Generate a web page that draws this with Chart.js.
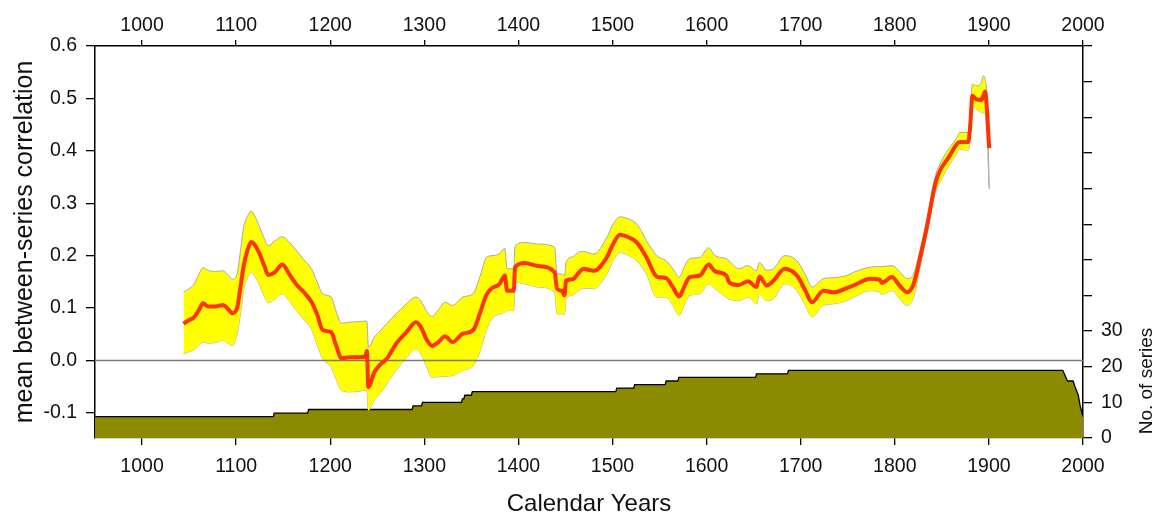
<!DOCTYPE html>
<html>
<head>
<meta charset="utf-8">
<script src="https://cdn.jsdelivr.net/npm/chart.js@4"></script>
<style>
  html, body { margin: 0; padding: 0; background: #fff; }
  #wrap { width: 1158px; height: 519px; position: relative; }
</style>
</head>
<body>
<div id="wrap"><canvas id="chart"></canvas></div>
<script>
'use strict';

// ── data ────────────────────────────────────────────────────────────────
const years = [
  1044, 1050, 1055, 1060, 1065, 1070, 1078, 1086, 1092, 1096,
  1101, 1105, 1108, 1112, 1116, 1120, 1125, 1130, 1134, 1141,
  1149, 1157, 1164, 1172, 1180, 1186, 1192, 1201, 1206, 1212,
  1220, 1230, 1237, 1239, 1240.5, 1247, 1253, 1260, 1270, 1281,
  1291, 1297, 1302, 1308, 1315, 1322, 1330, 1341, 1352, 1360,
  1366, 1372, 1380, 1385.5, 1388, 1395, 1396.5, 1407, 1421, 1438.5,
  1441, 1446, 1449, 1450.5, 1458, 1463, 1469, 1480, 1494, 1500,
  1508, 1517, 1526, 1536, 1547, 1557, 1564, 1571, 1576, 1582,
  1593, 1602, 1609, 1621, 1624, 1634, 1644, 1653, 1656, 1664,
  1671, 1683, 1696, 1705, 1712, 1724, 1735, 1749, 1756, 1774,
  1784, 1786, 1797, 1805, 1813, 1820, 1827, 1834, 1843, 1848,
  1857, 1866, 1869, 1878, 1880, 1882.5, 1887, 1892, 1894, 1896,
  1898, 1900.3
];
const meanCorr = [
  0.070, 0.077, 0.082, 0.095, 0.109, 0.103, 0.103, 0.106, 0.097, 0.090,
  0.100, 0.145, 0.180, 0.210, 0.226, 0.220, 0.203, 0.180, 0.163, 0.168,
  0.183, 0.163, 0.145, 0.130, 0.112, 0.088, 0.058, 0.054, 0.030, 0.004,
  0.006, 0.006, 0.007, 0.018, -0.051, -0.022, -0.008, 0.003, 0.032, 0.054,
  0.073, 0.062, 0.041, 0.028, 0.035, 0.046, 0.035, 0.051, 0.058, 0.095,
  0.125, 0.138, 0.146, 0.162, 0.133, 0.133, 0.178, 0.186, 0.180, 0.168,
  0.137, 0.133, 0.124, 0.152, 0.155, 0.165, 0.175, 0.171, 0.197, 0.220,
  0.240, 0.235, 0.225, 0.197, 0.160, 0.157, 0.140, 0.122, 0.140, 0.159,
  0.162, 0.183, 0.170, 0.162, 0.149, 0.144, 0.151, 0.140, 0.160, 0.143,
  0.152, 0.175, 0.162, 0.133, 0.111, 0.133, 0.130, 0.138, 0.143, 0.156,
  0.154, 0.148, 0.159, 0.143, 0.130, 0.146, 0.197, 0.254, 0.337, 0.362,
  0.387, 0.413, 0.417, 0.417, 0.444, 0.505, 0.498, 0.497, 0.505, 0.513,
  0.476, 0.405
];
const upperCorr = [
  0.130, 0.137, 0.145, 0.163, 0.177, 0.172, 0.170, 0.171, 0.162, 0.155,
  0.165, 0.215, 0.255, 0.275, 0.285, 0.275, 0.254, 0.232, 0.219, 0.228,
  0.236, 0.225, 0.210, 0.192, 0.175, 0.150, 0.127, 0.121, 0.095, 0.071,
  0.073, 0.074, 0.075, 0.075, 0.025, 0.045, 0.056, 0.070, 0.089, 0.108,
  0.121, 0.112, 0.095, 0.084, 0.097, 0.111, 0.105, 0.121, 0.128, 0.165,
  0.197, 0.200, 0.204, 0.214, 0.175, 0.175, 0.219, 0.225, 0.222, 0.216,
  0.165, 0.165, 0.162, 0.187, 0.198, 0.206, 0.208, 0.203, 0.235, 0.258,
  0.274, 0.270, 0.260, 0.229, 0.200, 0.190, 0.175, 0.159, 0.178, 0.194,
  0.197, 0.215, 0.200, 0.194, 0.190, 0.175, 0.181, 0.171, 0.187, 0.172,
  0.175, 0.200, 0.190, 0.163, 0.140, 0.156, 0.158, 0.162, 0.168, 0.178,
  0.179, 0.179, 0.181, 0.170, 0.156, 0.165, 0.213, 0.268, 0.352, 0.375,
  0.403, 0.425, 0.435, 0.435, 0.476, 0.527, 0.524, 0.530, 0.543, 0.537,
  0.500, 0.330
];
const lowerCorr = [
  0.012, 0.017, 0.020, 0.028, 0.035, 0.033, 0.034, 0.038, 0.032, 0.028,
  0.050, 0.095, 0.135, 0.158, 0.168, 0.160, 0.143, 0.122, 0.110, 0.117,
  0.127, 0.112, 0.095, 0.078, 0.060, 0.030, 0.003, -0.013, -0.035, -0.057,
  -0.060, -0.059, -0.057, -0.057, -0.095, -0.075, -0.063, -0.045, -0.019, 0.005,
  0.022, 0.010, -0.010, -0.032, -0.031, -0.030, -0.029, -0.019, -0.010, 0.022,
  0.058, 0.080, 0.089, 0.092, 0.095, 0.095, 0.149, 0.146, 0.140, 0.130,
  0.089, 0.089, 0.088, 0.116, 0.125, 0.132, 0.138, 0.137, 0.165, 0.188,
  0.206, 0.200, 0.190, 0.165, 0.121, 0.121, 0.105, 0.086, 0.105, 0.124,
  0.127, 0.146, 0.137, 0.120, 0.117, 0.114, 0.121, 0.108, 0.127, 0.114,
  0.118, 0.146, 0.133, 0.105, 0.083, 0.105, 0.108, 0.114, 0.120, 0.133,
  0.130, 0.126, 0.133, 0.118, 0.105, 0.121, 0.180, 0.240, 0.321, 0.340,
  0.370, 0.395, 0.403, 0.401, 0.420, 0.486, 0.479, 0.473, 0.472, 0.470,
  0.430, 0.327
];

// number of series (sample depth), drawn as a stepped area on the right axis
const seriesYears = [
  950, 1139.5, 1140.5, 1176, 1177, 1287, 1288, 1297, 1298, 1339.5,
  1340.5, 1342, 1343, 1350, 1351, 1503.5, 1504.5, 1522.5, 1523.5, 1556,
  1557, 1569.5, 1570.5, 1652, 1653, 1686, 1687, 1978.5, 1983.5, 1989.5,
  1992, 1995, 1997, 2000
];
const seriesCount = [
  6, 6, 7, 7, 8, 8, 9, 9, 10, 10,
  11, 11, 12, 12, 13, 13, 14, 14, 15, 15,
  16, 16, 17, 17, 18, 18, 19, 19, 16, 16,
  14, 12, 9, 6
];

const yearRange = [950, 2000];
const corrRange = [-0.148, 0.6];
const seriesRange = [0, 110];
const yearTicks = [1000, 1100, 1200, 1300, 1400, 1500, 1600, 1700, 1800, 1900, 2000];
const corrTicks = [-0.1, 0, 0.1, 0.2, 0.3, 0.4, 0.5, 0.6];
const seriesTicks = [0, 10, 20, 30, 40, 50, 60, 70, 80, 90, 100, 110];
const seriesLabelMax = 30;

// ── helpers ─────────────────────────────────────────────────────────────
const FONT = '"Liberation Sans", Arial, Helvetica, sans-serif';
const INK = '#111';
const pts = (xs, ys) => xs.map((x, i) => ({ x, y: ys[i] }));
const setTicks = list => axis => { axis.ticks = list.map(v => ({ value: v })); };

// right-hand axis title sits beside the 0–30 labels, reading upward
const seriesTitle = {
  id: 'seriesTitle',
  afterDraw(chart) {
    const { ctx } = chart;
    const s = chart.scales.ySeries;
    ctx.save();
    ctx.translate(chart.width - 11, s.getPixelForValue(16));
    ctx.rotate(-Math.PI / 2);
    ctx.font = `19px ${FONT}`;
    ctx.fillStyle = INK;
    ctx.textAlign = 'center';
    ctx.textBaseline = 'middle';
    ctx.fillText('No. of series', 0, 0);
    ctx.restore();
  }
};

const line = (data, extra) => Object.assign({
  data,
  pointRadius: 0,
  borderWidth: 1,
  fill: false,
  cubicInterpolationMode: 'monotone',
  xAxisID: 'x',
  yAxisID: 'y',
}, extra);

new Chart(document.getElementById('chart'), {
  type: 'line',
  data: {
    datasets: [
      line(pts(years, meanCorr), { borderColor: '#ff3300', borderWidth: 4, order: 0 }),
      line(pts(yearRange, [0, 0]), { borderColor: '#7a7a7a', borderWidth: 1.5, cubicInterpolationMode: 'default', order: 1 }),
      line(pts(years, upperCorr), { borderColor: '#a8a8a8', backgroundColor: '#ffff00', fill: '+1', order: 2 }),
      line(pts(years, lowerCorr), { borderColor: '#a8a8a8', order: 3 }),
      line(pts(seriesYears, seriesCount), {
        borderColor: '#000', borderWidth: 1.3, backgroundColor: '#8c8a00',
        fill: 'origin', cubicInterpolationMode: 'default', yAxisID: 'ySeries', order: 4
      }),
    ]
  },
  options: {
    responsive: true,
    maintainAspectRatio: false,
    animation: false,
    layout: { padding: 0 },
    plugins: { legend: { display: false }, tooltip: { enabled: false } },
    scales: {
      x: {
        type: 'linear', position: 'bottom', min: yearRange[0], max: yearRange[1],
        afterBuildTicks: setTicks(yearTicks),
        afterFit: s => { s.height = 81; },
        grid: { drawOnChartArea: false, tickLength: 7, color: '#000', lineWidth: 1.3 },
        border: { display: true, color: '#555', width: 1.3 },
        ticks: { color: INK, font: { family: FONT, size: 19.5 }, padding: 10, maxRotation: 0, autoSkip: false, callback: v => String(v) },
        title: { display: true, text: 'Calendar Years', color: INK, font: { family: FONT, size: 24 }, padding: { top: 0, bottom: 0 } }
      },
      xTop: {
        type: 'linear', position: 'top', min: yearRange[0], max: yearRange[1],
        afterBuildTicks: setTicks(yearTicks),
        afterFit: s => { s.height = 46; },
        grid: { drawOnChartArea: false, tickLength: 6, color: '#000', lineWidth: 1.3 },
        border: { display: true, color: '#000', width: 1.5 },
        ticks: { color: INK, font: { family: FONT, size: 19.5 }, padding: 3, maxRotation: 0, autoSkip: false, callback: v => String(v) }
      },
      y: {
        type: 'linear', position: 'left', min: corrRange[0], max: corrRange[1],
        afterBuildTicks: setTicks(corrTicks),
        afterFit: s => { s.width = 95; },
        grid: { drawOnChartArea: false, tickLength: 9, color: '#000', lineWidth: 1.3 },
        border: { display: true, color: '#000', width: 1.5 },
        ticks: { color: INK, font: { family: FONT, size: 19.5 }, padding: 9, autoSkip: false, callback: v => v.toFixed(1) },
        title: { display: true, text: 'mean between-series correlation', color: INK, font: { family: FONT, size: 25 }, padding: { top: 10, bottom: 0 } }
      },
      ySeries: {
        type: 'linear', position: 'right', min: seriesRange[0], max: seriesRange[1],
        afterBuildTicks: setTicks(seriesTicks),
        afterFit: s => { s.width = 75; },
        grid: { drawOnChartArea: false, tickLength: 9, color: '#000', lineWidth: 1.3 },
        border: { display: true, color: '#000', width: 1.5 },
        ticks: { color: INK, font: { family: FONT, size: 19.5 }, padding: 9, autoSkip: false, callback: v => (v <= seriesLabelMax ? String(v) : '') }
      }
    }
  },
  plugins: [seriesTitle]
});
</script>
</body>
</html>
